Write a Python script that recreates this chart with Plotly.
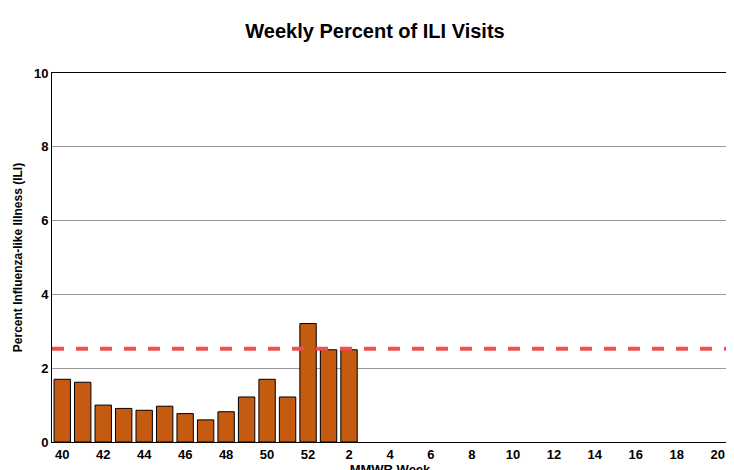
import plotly.graph_objects as go

weeks = list(range(40, 53)) + list(range(1, 21))
ili_pct = [1.70, 1.62, 1.00, 0.91, 0.86, 0.97, 0.77, 0.60, 0.82, 1.22, 1.70, 1.22, 3.21, 2.50, 2.50]
baseline = 2.53
tick_labels = [str(w) if w % 2 == 0 else '' for w in weeks]

pos = list(range(len(weeks)))

fig = go.Figure([
    go.Bar(
        x=pos[:len(ili_pct)],
        y=ili_pct,
        marker=dict(color='#C55A11', line=dict(color='black', width=1)),
        width=0.8,
        showlegend=False,
    ),
    go.Scatter(
        x=[pos[0] - 0.5, pos[-1] + 0.5],
        y=[baseline, baseline],
        mode='lines',
        line=dict(color='#F0504F', width=4, dash='dash'),
        showlegend=False,
    ),
])

fig.update_layout(
    width=734, height=470,
    margin=dict(l=44, r=14, t=65, b=36, autoexpand=False),
    plot_bgcolor='white', paper_bgcolor='white',
    font=dict(family='Liberation Sans, Arial', color='black'),
    title=dict(text='<b>Weekly Percent of ILI Visits</b>', x=0.5, y=0.965,
               xanchor='center', font=dict(size=20)),
    xaxis=dict(
        tickmode='array', tickvals=pos,
        ticktext=['<b>%s</b>' % t if t else '' for t in tick_labels],
        range=[-0.5, len(weeks) - 0.5],
        title=dict(text='<b>MMWR Week</b>', font=dict(size=13), standoff=2),
        tickfont=dict(size=13),
        showline=True, linecolor='black', mirror=True,
        ticks='', showgrid=False,
    ),
    yaxis=dict(
        range=[0, 10], dtick=2,
        title=dict(text='<b>Percent Influenza-like Illness (ILI)</b>', font=dict(size=12), standoff=8),
        tickfont=dict(size=13),
        tickprefix='<b>', ticksuffix='</b>',
        showline=True, linecolor='black', mirror=True,
        gridcolor='#999999', gridwidth=1,
    ),
)

fig.write_html("out.html")
